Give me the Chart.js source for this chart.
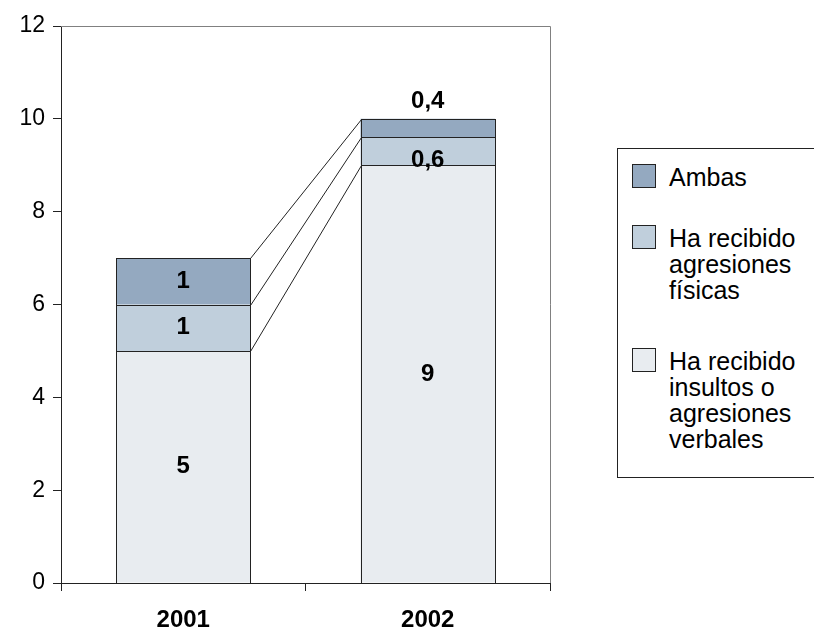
<!DOCTYPE html>
<html>
<head>
<meta charset="utf-8">
<script src="https://cdn.jsdelivr.net/npm/chart.js@4"></script>
<style>
    html, body { margin: 0; padding: 0; background: #fff; }
    #wrap { position: relative; width: 814px; height: 632px; overflow: hidden; }
    #legend {
        position: absolute; left: 617px; top: 148px; width: 230px; height: 330px;
        border: 1px solid #222; box-sizing: border-box; background: #fff;
        font-family: 'Liberation Sans', Arial, sans-serif; font-size: 25px; line-height: 26px; color: #000;
    }
    .item { position: absolute; left: 51px; white-space: nowrap; }
    .swatch { position: absolute; left: -37px; top: 0; width: 24px; height: 24px; border: 1px solid #222; box-sizing: border-box; }
</style>
</head>
<body>
<div id="wrap">
    <canvas id="chart" width="814" height="632"></canvas>
    <div id="legend"></div>
</div>
<script>
const categories = ['2001', '2002'];
const verbales = [5, 9];
const fisicas = [1, 0.6];
const ambas = [1, 0.4];
const yTicks = [0, 2, 4, 6, 8, 10, 12];

const legendItems = [
    { text: ['Ambas'], color: '#94a9c0', top: 15 },
    { text: ['Ha recibido', 'agresiones', 'físicas'], color: '#c0cfdc', top: 76 },
    { text: ['Ha recibido', 'insultos o', 'agresiones', 'verbales'], color: '#e8ecf0', top: 199 }
];

// legend on the right, multi-line like the original
const legendEl = document.getElementById('legend');
legendItems.forEach(item => {
    const div = document.createElement('div');
    div.className = 'item';
    div.style.top = item.top + 'px';
    div.innerHTML = '<span class="swatch" style="background:' + item.color + '"></span>' + item.text.join('<br>');
    legendEl.appendChild(div);
});

const fmt = v => String(v).replace('.', ',');
const px = v => Math.round(v) + 0.5;

// frame on top and right of the plot area
const frame = {
    id: 'frame',
    beforeDatasetsDraw(chart) {
        const { ctx, chartArea: a } = chart;
        ctx.save();
        ctx.strokeStyle = '#808080';
        ctx.lineWidth = 1;
        ctx.beginPath();
        ctx.moveTo(a.left, px(a.top));
        ctx.lineTo(px(a.right), px(a.top));
        ctx.lineTo(px(a.right), a.bottom);
        ctx.stroke();
        ctx.restore();
    }
};

// crisp outlines round every bar segment, plus series lines between the stacks
const outlines = {
    id: 'outlines',
    afterDatasetsDraw(chart) {
        const ctx = chart.ctx;
        ctx.save();
        ctx.strokeStyle = '#222';
        ctx.lineWidth = 1;
        chart.data.datasets.forEach((ds, i) => {
            const meta = chart.getDatasetMeta(i);
            meta.data.forEach(bar => {
                const l = px(bar.x - bar.width / 2), r = px(bar.x + bar.width / 2);
                const t = px(bar.y), b = px(bar.base);
                ctx.strokeRect(l, t, r - l, b - t);
            });
            const a = meta.data[0], b = meta.data[1];
            ctx.beginPath();
            ctx.moveTo(px(a.x + a.width / 2), px(a.y));
            ctx.lineTo(px(b.x - b.width / 2), px(b.y));
            ctx.stroke();
        });
        ctx.restore();
    }
};

// value labels inside the segments
const valueLabels = {
    id: 'valueLabels',
    afterDatasetsDraw(chart) {
        const ctx = chart.ctx;
        const last = chart.data.datasets.length - 1;
        ctx.save();
        ctx.font = 'bold 24px "Liberation Sans", Arial, sans-serif';
        ctx.fillStyle = '#000';
        ctx.textAlign = 'center';
        ctx.textBaseline = 'middle';
        chart.data.datasets.forEach((ds, i) => {
            chart.getDatasetMeta(i).data.forEach((bar, j) => {
                const h = bar.base - bar.y;
                let y = (bar.y + bar.base) / 2;
                if (h < 30) y = i === last ? bar.y - 17 : bar.base - 5;
                ctx.fillText(fmt(ds.data[j]), bar.x, y);
            });
        });
        ctx.restore();
    }
};

new Chart(document.getElementById('chart'), {
    type: 'bar',
    data: {
        labels: categories,
        datasets: [
            { label: 'Ha recibido insultos o agresiones verbales', data: verbales, backgroundColor: '#e8ecf0' },
            { label: 'Ha recibido agresiones físicas', data: fisicas, backgroundColor: '#c0cfdc' },
            { label: 'Ambas', data: ambas, backgroundColor: '#94a9c0' }
        ].map(d => Object.assign(d, {
            borderWidth: 0,
            barPercentage: 1, categoryPercentage: 0.55
        }))
    },
    options: {
        responsive: false,
        animation: false,
        layout: { padding: { top: 26, right: 264, left: 0, bottom: 0 } },
        plugins: { legend: { display: false }, tooltip: { enabled: false } },
        scales: {
            x: {
                stacked: true,
                grid: { offset: true, drawOnChartArea: false, drawTicks: true, tickLength: 8, color: '#222' },
                border: { display: true, color: '#222' },
                ticks: { color: '#000', font: { family: 'Liberation Sans', size: 24, weight: 'bold' }, padding: 15 },
                afterFit: s => { s.height = 49; }
            },
            y: {
                stacked: true,
                min: 0, max: 12,
                afterBuildTicks: s => { s.ticks = yTicks.map(v => ({ value: v })); },
                grid: { drawOnChartArea: false, drawTicks: true, tickLength: 8, color: '#222' },
                border: { display: true, color: '#222' },
                ticks: { color: '#000', font: { family: 'Liberation Sans', size: 23 }, padding: 8 },
                afterFit: s => { s.width = 61; }
            }
        }
    },
    plugins: [frame, outlines, valueLabels]
});
</script>
</body>
</html>
